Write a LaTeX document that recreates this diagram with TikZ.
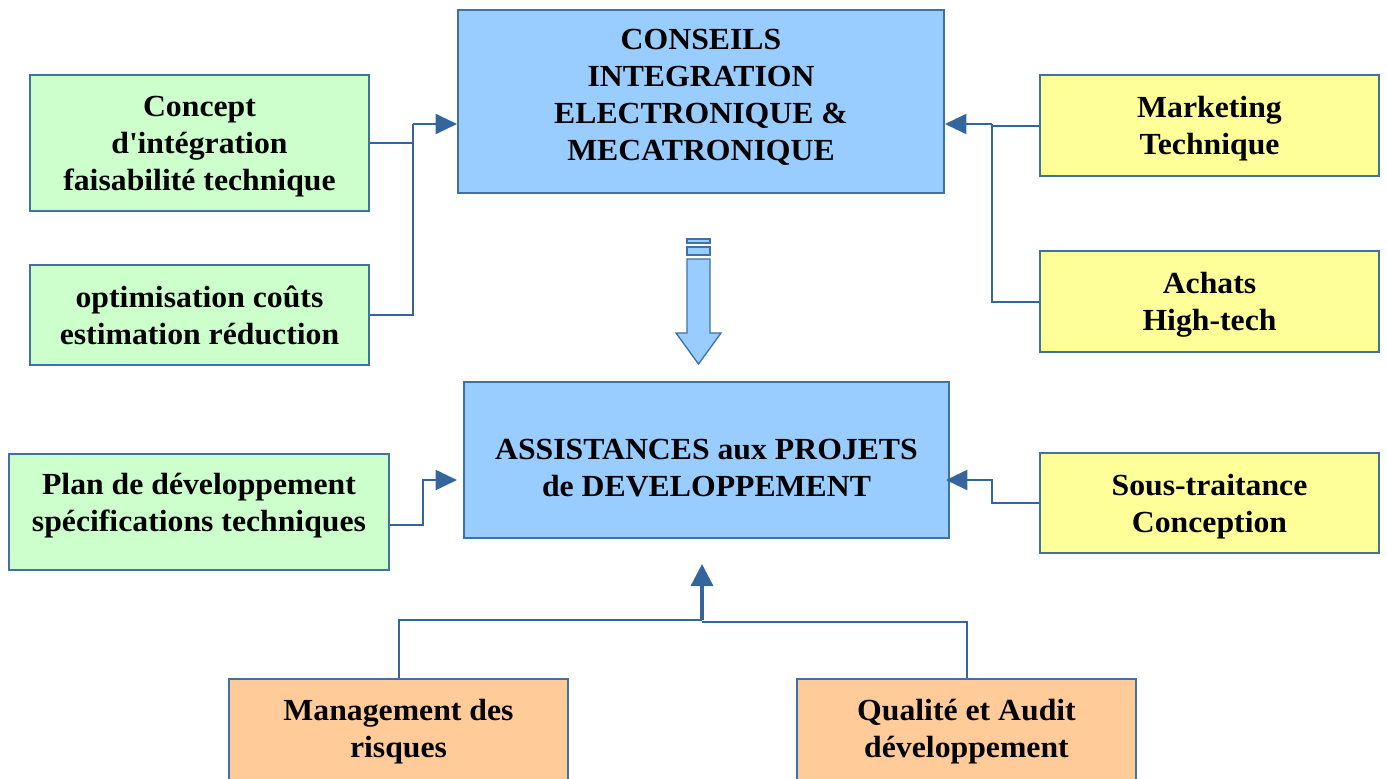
\documentclass[tikz,border=0pt]{standalone}
\usepackage{fontspec}
\setmainfont{Liberation Serif}[FakeStretch=1.035]
\usetikzlibrary{arrows.meta}
\definecolor{boxline}{RGB}{65,113,160}
\definecolor{linkblue}{RGB}{52,101,157}
\definecolor{lightblue}{RGB}{153,204,255}
\definecolor{lightgreen}{RGB}{204,255,204}
\definecolor{lightyellow}{RGB}{255,255,153}
\definecolor{lightorange}{RGB}{255,204,153}
\newcommand{\pxu}{0.75pt}
\tikzstyle{box}=[rectangle,draw=boxline,line width=1.5pt,align=center,inner sep=0pt,text depth=0pt]
\tikzstyle{blue box}=[box,fill=lightblue]
\tikzstyle{green box}=[box,fill=lightgreen]
\tikzstyle{yellow box}=[box,fill=lightyellow]
\tikzstyle{orange box}=[box,fill=lightorange]
\tikzstyle{box text}=[align=center,inner sep=0pt,text depth=0pt]
\tikzstyle{link}=[draw=linkblue,line width=1.5pt]
\tikzstyle{arrow link}=[link,-{Triangle[length=16pt,width=15pt]}]
\tikzstyle{hollow arrow}=[draw=boxline,fill=lightblue,line width=1pt]
\begin{document}
\begin{tikzpicture}[x=0.75pt,y=-0.75pt,font=\fontsize{23}{27.75}\selectfont\bfseries]
          \useasboundingbox (0,0) rectangle (1387,778);
          % upper part
          \node[blue box,minimum width=486*\pxu,minimum height=183*\pxu] (conseils) at (701,101.5) {};
          \node[box text] (conseils text) at (701,95) {CONSEILS\\INTEGRATION\\ELECTRONIQUE \&\\MECATRONIQUE};
          \node[green box,minimum width=339*\pxu,minimum height=136*\pxu] (concept) at (199.5,143) {Concept\\d\textquotesingle intégration\\faisabilité technique};
          \node[green box,minimum width=339*\pxu,minimum height=100*\pxu] (cout) at (199.5,315) {optimisation coûts\\estimation réduction};
          \node[yellow box,minimum width=339*\pxu,minimum height=101*\pxu] (marketing) at (1209.5,125.5) {Marketing\\Technique};
          \node[yellow box,minimum width=339*\pxu,minimum height=101*\pxu] (achats) at (1209.5,301.5) {Achats\\High-tech};
          % lower part
          \node[blue box,minimum width=485*\pxu,minimum height=156*\pxu] (assist) at (706.5,460) {};
          \node[box text] (assist text) at (706.5,468) {ASSISTANCES aux PROJETS\\de DEVELOPPEMENT};
          \node[green box,minimum width=380*\pxu,minimum height=116*\pxu] (plan) at (199,512) {};
          \node[box text] (plan text) at (199,502.5) {Plan de développement\\spécifications techniques};
          \node[yellow box,minimum width=339*\pxu,minimum height=100*\pxu] (soustraitance) at (1209.5,503) {Sous-traitance\\Conception};
          \node[orange box,minimum width=339*\pxu,minimum height=121*\pxu] (risque) at (398.5,739.5) {};
          \node[box text] (risque text) at (398.5,728) {Management des\\risques};
          \node[orange box,minimum width=339*\pxu,minimum height=121*\pxu] (audit) at (966.5,739.5) {};
          \node[box text] (audit text) at (966.5,728) {Qualité et Audit\\développement};
          % connectors
          \coordinate (jl) at (413,124);
          \coordinate (jr) at (992,124);
          \coordinate (pl) at (423,480);
          \coordinate (pr) at (992,480);
          \coordinate (jb) at (702,620);
          \draw[link] (concept.east) -| (jl);
          \draw[link] (cout.east) -| (jl);
          \draw[arrow link] (jl) -- (conseils.west |- jl);
          \draw[link] (marketing.west) -| (jr);
          \draw[link] (achats.west) -| (jr);
          \draw[arrow link] (jr) -- (conseils.east |- jr);
          \draw[arrow link,shorten >=4.5pt] ([yshift=-10pt]plan.east) -| (pl) -- (assist.west |- pl);
          \draw[arrow link,shorten >=-3pt] (soustraitance.west) -| (pr) -- (assist.east |- pr);
          \draw[link] (risque.north) |- (jb);
          \draw[link] (audit.north) |- ([yshift=-1.5pt]jb);
          \draw[link,line width=2.5pt,-{Triangle[length=16.5pt,width=16.5pt]},shorten >=18.75pt] (jb) -- (jb |- assist.south);
          % hollow arrow between the blue boxes
          \draw[hollow arrow] (687,239) rectangle (710,243);
          \draw[hollow arrow] (687,247) rectangle (710,255);
          \draw[hollow arrow] (687,259) -- (710,259) -- (710,333) -- (721,333) -- (698.5,364) -- (676,333) -- (687,333) -- cycle;
\end{tikzpicture}
\end{document}
